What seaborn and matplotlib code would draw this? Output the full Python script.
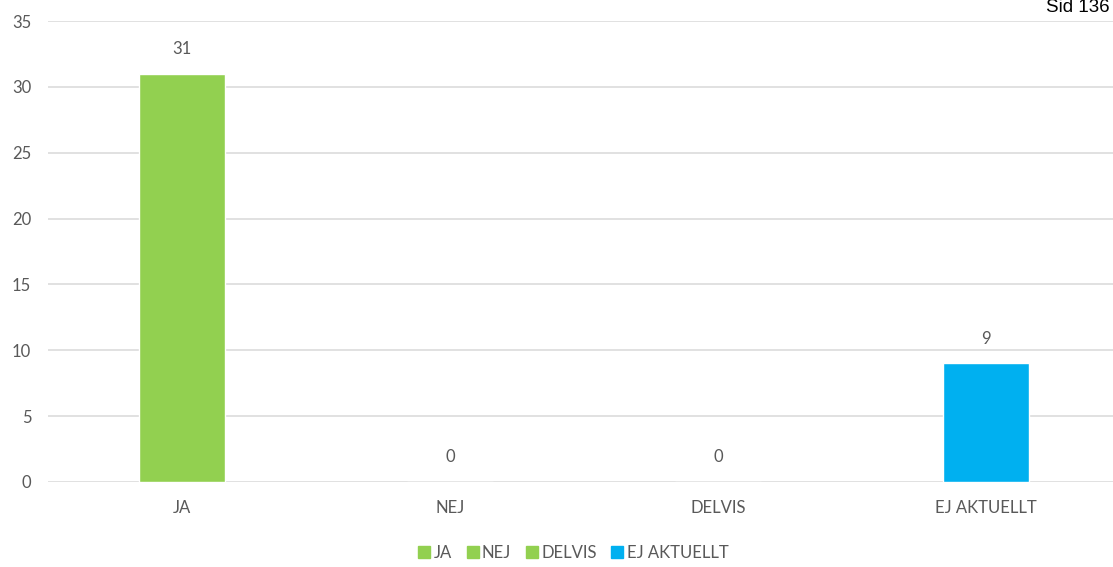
import matplotlib
matplotlib.use("Agg")
import matplotlib.pyplot as plt
from matplotlib.lines import Line2D
import seaborn as sns

# Data
categories = ["JA", "NEJ", "DELVIS", "EJ AKTUELLT"]
counts = [31, 0, 0, 9]
colors = ["#92D050", "#92D050", "#92D050", "#00B0F0"]
yticks = [0, 5, 10, 15, 20, 25, 30, 35]

sns.set_style("white")
plt.rcParams["font.family"] = ["Lato", "DejaVu Sans"]
text_color = "#595959"

fig = plt.figure(figsize=(11.13, 5.67), dpi=100)
ax = fig.add_axes([48 / 1113, 85 / 567, 1072 / 1113, 461 / 567])

sns.barplot(x=categories, y=counts, hue=categories, palette=colors,
            width=0.32, legend=False, saturation=1, ax=ax)

ax.set_xlim(-0.5, 3.5)
ax.set_ylim(0, 35)
ax.set_yticks(yticks)
ax.yaxis.grid(True, color="#D9D9D9", linewidth=1.1)
ax.set_axisbelow(True)
for s in ax.spines.values():
    s.set_visible(False)
ax.tick_params(axis="y", length=0, pad=12, labelsize=12, labelcolor=text_color)
ax.tick_params(axis="x", length=0, pad=13, labelsize=12, labelcolor=text_color)
ax.set_xlabel("")
ax.set_ylabel("")

# value labels
for i, v in enumerate(counts):
    ax.annotate(str(v), (i, v), xytext=(0, 12), textcoords="offset points",
                ha="center", va="bottom", fontsize=12, color=text_color)

handles = [Line2D([0], [0], marker="s", linestyle="", markersize=8,
                  markerfacecolor=c, markeredgecolor=c) for c in colors]
fig.legend(handles, categories, loc="center", bbox_to_anchor=(573 / 1113, 1 - 553 / 567),
           ncol=4, frameon=False, fontsize=12, labelcolor=text_color,
           handletextpad=0.15, columnspacing=0.85, handlelength=0.8)

fig.text(1110 / 1113, 1 - 8 / 567, "Sid 136", fontsize=13.5, color="black",
         ha="right", va="center", family=["Liberation Sans", "DejaVu Sans"])

fig.savefig("out.png", dpi=100)
